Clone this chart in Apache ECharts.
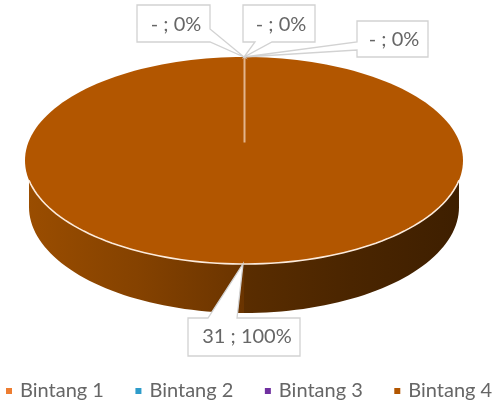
<!DOCTYPE html>
<html>
<head>
<meta charset="utf-8">
<style>html,body{margin:0;padding:0;background:#fff}#c{width:495px;height:402px;filter:blur(0.5px)}</style>
<script src="https://cdn.jsdelivr.net/npm/echarts@6/dist/echarts.min.js"></script>
</head>
<body>
<div id="c"></div>
<script>
const categories = ['Bintang 1', 'Bintang 2', 'Bintang 3', 'Bintang 4'];
const values = [0, 0, 0, 31];
const colors = ['#ED7D31', '#2E9CCA', '#7030A0', '#B25600'];

const total = values.reduce((a, b) => a + b, 0);
const faceEllipse = { cx: 244, cy: 160.5, rx: 219, ry: 103.5 };
const baseEllipse = { cx: 244, cy: 207, rx: 215, ry: 106 };
const wallStart = 101, wallEnd = 259;
const callouts = [
  { text: [176, 25], poly: [[137,5],[210,5],[210,29],[244,57],[210,42],[137,42]] },
  { text: [281, 25], poly: [[243,5],[315,5],[315,42],[272,42],[244,57],[255,42],[243,42]] },
  { text: [394, 40], poly: [[357,21],[428,21],[428,57],[357,57],[357,50],[244,57],[357,42]] },
  { text: [247, 337], poly: [[188,318],[208,318],[243,264],[237,318],[300,318],[300,356],[188,356]] }
];

function pt(e, deg) {
  const a = deg * Math.PI / 180;
  return [e.cx + e.rx * Math.sin(a), e.cy - e.ry * Math.cos(a)];
}
function arc(e, from, to) {
  const out = [];
  const n = Math.max(1, Math.ceil(Math.abs(to - from) / 2));
  for (let i = 0; i <= n; i++) out.push(pt(e, from + (to - from) * i / n));
  return out;
}
function frontBand(from, to, gradient) {
  const a = Math.max(from, wallStart), b = Math.min(to, wallEnd);
  if (b <= a) return null;
  const baseA = a === wallStart ? 90 : a, baseB = b === wallEnd ? 270 : b;
  return {
    type: 'polygon', z2: 1,
    shape: { points: arc(faceEllipse, a, b).concat(arc(baseEllipse, baseB, baseA)) },
    style: { fill: gradient }
  };
}
function grad(stops) {
  return new echarts.graphic.LinearGradient(0, 0, 1, 0, stops);
}

function makeRender(idx) {
  return function () {
    const before = values.slice(0, idx).reduce((a, b) => a + b, 0);
    const from = before / total * 360, to = (before + values[idx]) / total * 360;
    const children = [];
    if (values[idx] > 0) {
      const r = frontBand(from, Math.min(to, 180), grad([
        { offset: 0, color: '#5A2D00' }, { offset: 0.5, color: '#4A2500' }, { offset: 1, color: '#3E1F00' }
      ]));
      const l = frontBand(Math.max(from, 180), to, grad([
        { offset: 0, color: '#9A4D00' }, { offset: 0.5, color: '#854200' }, { offset: 1, color: '#6A3400' }
      ]));
      if (r) children.push(r);
      if (l) children.push(l);
      children.push({
        type: 'polygon', z2: 2,
        shape: { points: (to - from < 360 ? [[faceEllipse.cx, faceEllipse.cy]] : []).concat(arc(faceEllipse, from, to)) },
        style: { fill: colors[idx] }
      });
      children.push({
        type: 'polyline', z2: 3,
        shape: { points: arc(faceEllipse, Math.max(from, wallStart), Math.min(to, wallEnd)) },
        style: { stroke: '#FCEBDC', lineWidth: 1.6, fill: 'none' }
      });
      children.push({
        type: 'line', z2: 3,
        shape: { x1: faceEllipse.cx + 0.5, y1: faceEllipse.cy - faceEllipse.ry, x2: faceEllipse.cx + 0.5, y2: faceEllipse.cy - 18 },
        style: { stroke: '#E3B48C', lineWidth: 2 }
      });
    }
    const c = callouts[idx];
    children.push({
      type: 'polygon', z2: 10,
      shape: { points: c.poly },
      style: { fill: '#fff', stroke: '#D2D2D2', lineWidth: 1.3 }
    });
    const label = (values[idx] === 0 ? '-' : values[idx]) + ' ; ' + Math.round(values[idx] / total * 100) + '%';
    children.push({
      type: 'text', z2: 11,
      style: {
        text: label, x: c.text[0], y: c.text[1], fill: '#666666',
        font: '20px Lato', textAlign: 'center', textVerticalAlign: 'middle'
      }
    });
    return { type: 'group', children };
  };
}

const chart = echarts.init(document.getElementById('c'), null, { renderer: 'canvas' });
chart.setOption({
  animation: false,
  backgroundColor: '#fff',
  legend: {
    left: 6, top: 381,
    itemWidth: 6, itemHeight: 6, itemGap: 31.5,
    icon: 'rect',
    data: categories,
    selectedMode: false,
    padding: 0,
    textStyle: { fontFamily: 'Lato', fontSize: 20, color: '#666666', padding: [0, 0, 0, 3] }
  },
  series: categories.map((name, i) => ({
    type: 'custom',
    name,
    coordinateSystem: 'none',
    silent: true,
    data: [[values[i]]],
    itemStyle: { color: colors[i] },
    renderItem: makeRender(i)
  }))
});
</script>
</body>
</html>
